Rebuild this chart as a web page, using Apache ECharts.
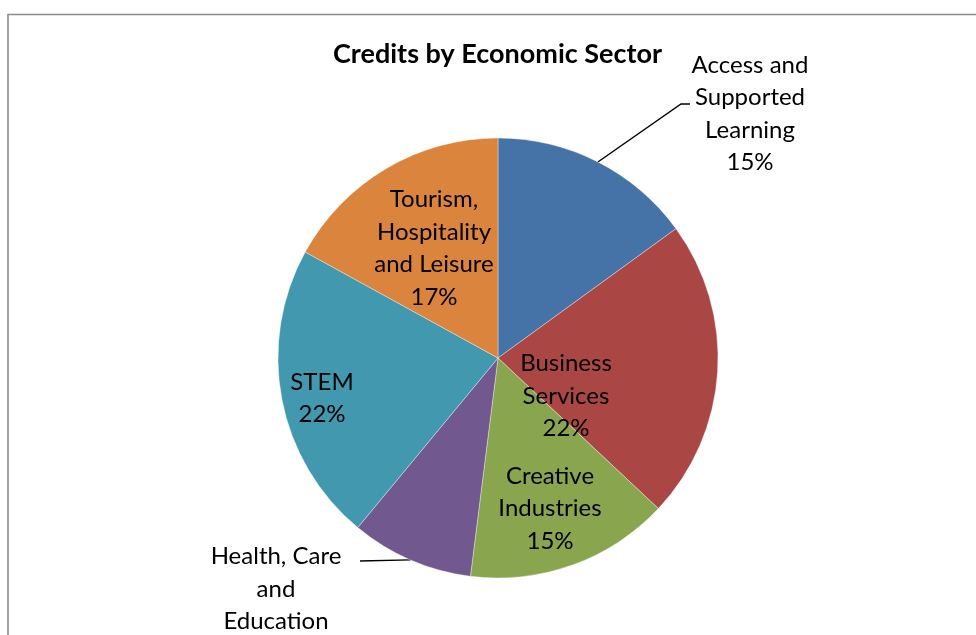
<!DOCTYPE html>
<html>
<head>
<meta charset="utf-8">
<title>Credits by Economic Sector</title>
<script src="https://cdn.jsdelivr.net/npm/echarts@6/dist/echarts.min.js"></script>
<style>
  html, body { margin: 0; padding: 0; background: #ffffff; }
  #chart { width: 976px; height: 635px; }
</style>
</head>
<body>
<div id="chart"></div>
<script>
// Sector names (line breaks as they wrap in the labels) and their share of credits, in percent
const sectors = [
  'Access and\nSupported\nLearning',
  'Business\nServices',
  'Creative\nIndustries',
  'Health, Care\nand\nEducation',
  'STEM',
  'Tourism,\nHospitality\nand Leisure'
];
const shares = [15, 22, 15, 9, 22, 17];
const sliceColors = ['#4572A7', '#AA4643', '#89A54E', '#71588F', '#4198AF', '#DB843D'];

// Pie geometry
const pieCenter = [498, 358];
const pieRadius = 220;
// Where each label block sits, as an offset from the pie centre
const labelOffsets = [[252, -244], [68, 38], [52, 150.5], [-222, 247.5], [-176, 40.5], [-64, -109.5]];
// Slices whose labels sit outside the pie, with the elbow / end of the leader line
const leaderEnds = {
  0: [[681, 104], [690, 104]],
  3: [[360, 561]]
};

const FONT = 'Lato';

// mid-angle (clockwise from 12 o'clock) of each slice
const total = shares.reduce((a, b) => a + b, 0);
const midAngles = [];
let acc = 0;
shares.forEach(v => {
  midAngles.push((acc + v / 2) / total * 2 * Math.PI);
  acc += v;
});

const chart = echarts.init(document.getElementById('chart'), null, { renderer: 'canvas' });

chart.setOption({
  backgroundColor: '#ffffff',
  animation: false,
  title: {
    text: 'Credits by Economic Sector',
    left: 328,
    top: 36,
    textStyle: { fontFamily: FONT, fontWeight: 'bold', fontSize: 27, color: '#000000' }
  },
  graphic: [{
    type: 'rect',
    shape: { x: 8, y: 14.5, width: 1200, height: 800 },
    style: { fill: 'none', stroke: '#8c8c8c', lineWidth: 1.6 },
    silent: true
  }],
  series: [{
    type: 'pie',
    center: pieCenter,
    radius: pieRadius,
    startAngle: 90,
    clockwise: true,
    percentPrecision: 0,
    avoidLabelOverlap: false,
    data: sectors.map((name, i) => ({
      name: name,
      value: shares[i],
      itemStyle: { color: sliceColors[i] },
      label: { position: leaderEnds[i] ? 'outside' : 'inside' },
      labelLine: { show: !!leaderEnds[i] }
    })),
    itemStyle: { borderColor: 'rgba(255,255,255,0.6)', borderWidth: 0.6 },
    label: {
      show: true,
      formatter: '{b}\n{d}%',
      fontFamily: FONT,
      fontSize: 24,
      lineHeight: 32.5,
      color: '#000000',
      align: 'center'
    },
    labelLine: { lineStyle: { color: '#000000', width: 1.4 } },
    labelLayout: function (params) {
      const i = params.dataIndex;
      const off = labelOffsets[i];
      const out = {
        x: pieCenter[0] + off[0],
        y: pieCenter[1] + off[1],
        align: 'center',
        verticalAlign: 'middle'
      };
      if (leaderEnds[i]) {
        const a = midAngles[i];
        const edge = [pieCenter[0] + pieRadius * Math.sin(a), pieCenter[1] - pieRadius * Math.cos(a)];
        out.labelLinePoints = [edge].concat(leaderEnds[i]);
      }
      return out;
    }
  }]
});
</script>
</body>
</html>
